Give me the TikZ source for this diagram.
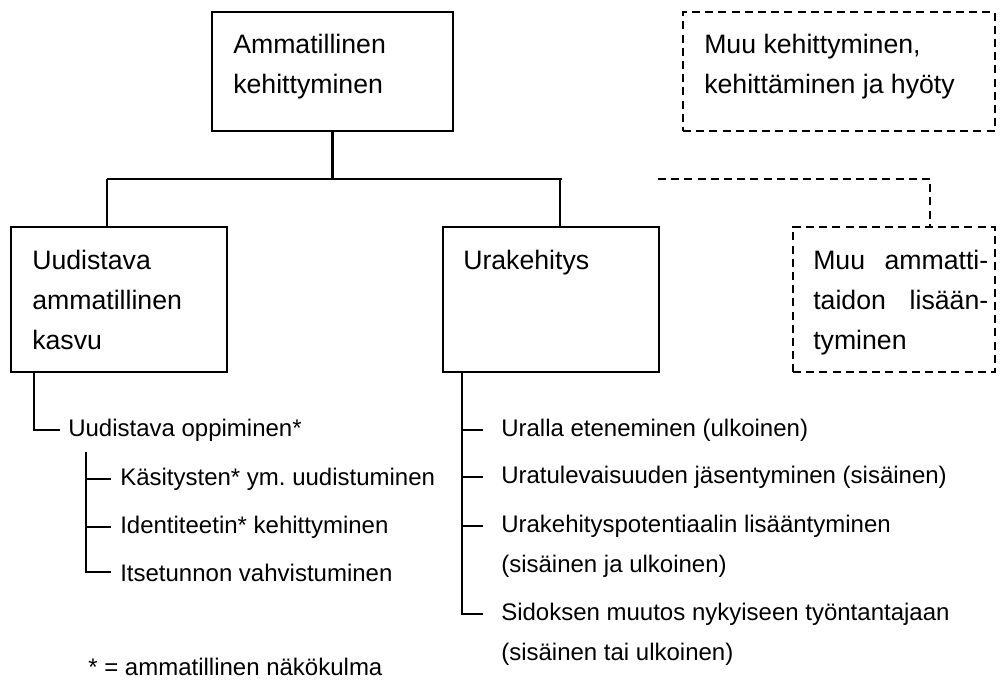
\documentclass[tikz,border=0pt]{standalone}
\usepackage{fontspec}
\setmainfont{Liberation Sans}
\usetikzlibrary{fit}
\frenchspacing
\begin{document}
\begin{tikzpicture}[x=0.75pt,y=-0.75pt,
  line/.style={line width=1.6pt},
  dline/.style={line width=1.6pt, dash pattern=on 6pt off 3.9pt},
  box/.style={draw, line width=1.6pt, inner sep=0pt},
  dbox/.style={box, dash pattern=on 6pt off 3.9pt},
  big/.style={anchor=base west, inner sep=0pt, align=left,
    font=\fontsize{20}{30}\selectfont},
  small/.style={anchor=base west, inner sep=0pt,
    font=\fontsize{18}{22}\selectfont}]
\useasboundingbox (0,0) rectangle (1002,680);

% frames
\node[box,  fit={(212,12) (453,131)}] (top) {};
\node[dbox, fit={(683,12) (995,131)}] (other) {};
\node[box,  fit={(11,227) (227,372)}] (growth) {};
\node[box,  fit={(443,227) (659,372)}] (career) {};
\node[dbox, fit={(793,227) (995,372)}] (skill) {};

% frame texts (anchored at the baseline of their last line)
\node[big] (topT) at (233,94) {Ammatillinen\\kehittyminen};
\node[big] (otherT) at (704,94) {Muu kehittyminen,\\kehittäminen ja hyöty};
\node[big] (growthT) at (32,350) {Uudistava\\ammatillinen\\kasvu};
\node[big] (careerT) at (463,270) {Urakehitys};
\node[big] (skillT) at (813,350)
  {\hbox to 131.25pt{Muu\hfill ammatti-}\\\hbox to 131.25pt{taidon\hfill lisään-}\\tyminen};

% tree connectors
\coordinate (busL) at (107,179);
\coordinate (busR) at (562,179);
\coordinate (busC) at (560,179);
\draw[line] (top.south) -- (top.south |- busL);
\draw[line] (busL) -- (busR);
\draw[line] (busL) -- (busL |- growth.north);
\draw[line] (busC) -- (busC |- career.north);
\coordinate (dStart) at (658,179);
\coordinate (dCorner) at (930,179);
\draw[dline] (dStart) -- (dCorner) -- (dCorner |- skill.north);

% left list
\node[small] (learn) at (68,436) {Uudistava oppiminen*};
\node[small] (k1) at (120,485) {Käsitysten* ym. uudistuminen};
\node[small] (k2) at (120,533) {Identiteetin* kehittyminen};
\node[small] (k3) at (120,581) {Itsetunnon vahvistuminen};
\node[small] (note) at (88,675) {* = ammatillinen näkökulma};

\coordinate (lv0) at ([xshift=18pt]growth.south west);
\draw[line] (lv0) |- ([xshift=-6pt]learn.west);
\coordinate (lv1) at ([xshift=13.5pt,yshift=-8.25pt]learn.south west);
\draw[line] (lv1) |- ([xshift=-6.75pt]k3.west);
\draw[line] (lv1 |- k1.west) -- ([xshift=-6.75pt]k1.west);
\draw[line] (lv1 |- k2.west) -- ([xshift=-6.75pt]k2.west);

% right list
\node[small] (r1) at (501,436) {Uralla eteneminen (ulkoinen)};
\node[small] (r2) at (501,483) {Uratulevaisuuden jäsentyminen (sisäinen)};
\node[small] (r3) at (501,532) {Urakehityspotentiaalin lisääntyminen};
\node[small] (r3b) at (501,572) {(sisäinen ja ulkoinen)};
\node[small] (r4) at (501,620) {Sidoksen muutos nykyiseen työntantajaan};
\node[small] (r4b) at (501,660) {(sisäinen tai ulkoinen)};

\coordinate (rv) at ([xshift=15pt]career.south west);
\draw[line] (rv) |- ([xshift=-13.5pt]r4.west);
\draw[line] (rv |- r1.west) -- ([xshift=-13.5pt]r1.west);
\draw[line] (rv |- r2.west) -- ([xshift=-13.5pt]r2.west);
\draw[line] (rv |- r3.west) -- ([xshift=-13.5pt]r3.west);
\end{tikzpicture}
\end{document}
